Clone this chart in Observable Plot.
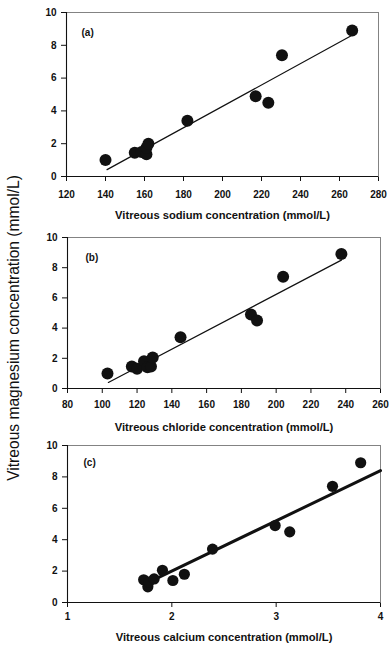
<!DOCTYPE html>
<html><head><meta charset="utf-8">
<script src="https://cdn.jsdelivr.net/npm/d3@7"></script>
<script src="https://cdn.jsdelivr.net/npm/@observablehq/plot@0.6"></script>
<style>
body{margin:0;background:#fff;}
#wrap{position:relative;width:389px;height:647px;overflow:hidden;font-family:"Liberation Sans",Arial,sans-serif;color:#111;}
.p{position:absolute;left:0;z-index:0;}
#ylab{position:absolute;z-index:2;left:14px;top:328px;transform:translate(-50%,-50%) rotate(-90deg);white-space:nowrap;font-size:15.6px;}
</style></head><body><div id="wrap"><div id="ylab">Vitreous magnesium concentration (mmol/L)</div></div>
<script>
// Magnesium (y) values
const yTicks = [0, 2, 4, 6, 8, 10];

// Panel (a): sodium
const sodium   = [140, 155, 158.5, 161, 161, 162, 182, 217, 223.5, 230.5, 266.5];
const mgA      = [1.0, 1.45, 1.5, 1.35, 1.75, 2.0, 3.4, 4.9, 4.5, 7.4, 8.9];
const fitAx    = [140.8, 266];
const fitAy    = [0.42, 8.58];
const ticksA   = [120, 140, 160, 180, 200, 220, 240, 260, 280];

// Panel (b): chloride
const chloride = [103, 117, 120, 124, 126, 128, 129, 145, 185.5, 189, 204, 237.5];
const mgB      = [1.0, 1.45, 1.3, 1.8, 1.4, 1.45, 2.05, 3.4, 4.9, 4.5, 7.4, 8.9];
const fitBx    = [103.5, 237.5];
const fitBy    = [0.4, 8.5];
const ticksB   = [80, 100, 120, 140, 160, 180, 200, 220, 240, 260];

// Panel (c): calcium
const calcium  = [1.73, 1.77, 1.78, 1.83, 1.91, 2.01, 2.12, 2.39, 2.99, 3.13, 3.54, 3.81];
const mgC      = [1.45, 1.0, 1.3, 1.5, 2.05, 1.4, 1.8, 3.4, 4.9, 4.5, 7.4, 8.9];
const fitCx    = [1.78, 4];
const fitCy    = [1.3, 8.4];
const ticksC   = [1, 2, 3, 4];

const panels = [
  {xs: sodium, ys: mgA, fx: fitAx, fy: fitAy, ticks: ticksA, tag: "(a)", title: "Vitreous sodium concentration (mmol/L)",
   top: 0, height: 225, mt: 12, mb: 49, ml: 66, mr: 11, pad: 9, tdx: 15, tdy: 16, titleDy: 42, r: 6, lw: 1.2},
  {xs: chloride, ys: mgB, fx: fitBx, fy: fitBy, ticks: ticksB, tag: "(b)", title: "Vitreous chloride concentration (mmol/L)",
   top: 225, height: 215, mt: 12, mb: 52, ml: 67, mr: 9, pad: 7, tdx: 18, tdy: 16, titleDy: 42, r: 6, lw: 1.2},
  {xs: calcium, ys: mgC, fx: fitCx, fy: fitCy, ticks: ticksC, tag: "(c)", title: "Vitreous calcium concentration (mmol/L)",
   top: 440, height: 207, mt: 5, mb: 45, ml: 67, mr: 9, pad: 5, tdx: 16, tdy: 13, titleDy: 38, r: 5.6, lw: 3}
];

const wrap = document.getElementById("wrap");
for (const p of panels) {
  const pts = p.xs.map((x, i) => ({x, y: p.ys[i]}));
  const fit = p.fx.map((x, i) => ({x, y: p.fy[i]}));
  const chart = Plot.plot({
    width: 389, height: p.height,
    marginTop: p.mt, marginBottom: p.mb, marginLeft: p.ml, marginRight: p.mr,
    style: {fontFamily: '"Liberation Sans", Arial, sans-serif', fontSize: "10px", fontWeight: "bold", color: "#111", background: "transparent"},
    x: {domain: [p.ticks[0], p.ticks[p.ticks.length - 1]], ticks: p.ticks, tickSize: 5, tickPadding: p.pad, label: null, tickFormat: d => String(d)},
    y: {domain: [0, 10], ticks: yTicks, tickSize: 5, tickPadding: 5, label: null},
    marks: [
      Plot.frame({stroke: "#777", strokeWidth: 0.9}),
      Plot.ruleY([0], {stroke: "#111", strokeWidth: 1.1}),
      Plot.ruleX([p.ticks[0]], {stroke: "#111", strokeWidth: 1.1}),
      Plot.line(fit, {x: "x", y: "y", stroke: "#111", strokeWidth: p.lw}),
      Plot.dot(pts, {x: "x", y: "y", r: p.r, fill: "#111", stroke: "none"}),
      Plot.text([p.tag], {frameAnchor: "top-left", dx: p.tdx, dy: p.tdy, text: d => d, textAnchor: "start", fontSize: 10, fontWeight: "bold", fill: "#111"}),
      Plot.text([p.title], {frameAnchor: "bottom", dy: p.titleDy, text: d => d, fontSize: 11.2, fontWeight: "bold", fill: "#111"})
    ]
  });
  chart.classList.add("p");
  chart.style.top = p.top + "px";
  wrap.appendChild(chart);
}
</script>
</body></html>
